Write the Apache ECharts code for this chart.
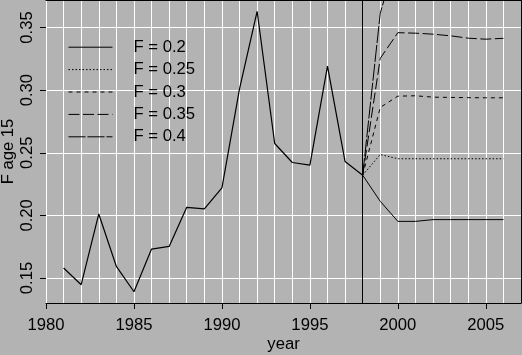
<!DOCTYPE html>
<html><head><meta charset="utf-8">
<script src="https://cdn.jsdelivr.net/npm/echarts@6/dist/echarts.min.js"></script>
<style>html,body{margin:0;padding:0;background:#b3b3b3}#c{width:522px;height:355px}</style>
</head><body><div id="c"></div>
<script>
// ---- data ----
const histYears  = [1981,1982,1983,1984,1985,1986,1987,1988,1989,1990,1991,1992,1993,1994,1995,1996,1997,1998];
const histValues = [0.158,0.1446,0.2011,0.1592,0.139,0.1731,0.1752,0.2064,0.2051,0.222,0.301,0.363,0.2574,0.2422,0.2401,0.3192,0.243,0.2321];
const projYears  = [1998,1999,2000,2001,2002,2003,2004,2005,2006];
const projF020 = [0.2321,0.2112,0.1952,0.1952,0.1966,0.1966,0.1966,0.1966,0.1966];
const projF025 = [0.2321,0.2486,0.2452,0.2452,0.2452,0.2452,0.2452,0.2452,0.2452];
const projF030 = [0.2321,0.2862,0.2952,0.2955,0.2944,0.2942,0.2940,0.2939,0.2939];
const projF035 = [0.2321,0.3254,0.3459,0.3455,0.3447,0.3434,0.3415,0.3407,0.3414];
const projF040 = [0.2321,0.3614,0.4100,0.4120,0.4130,0.4130,0.4120,0.4120,0.4120];
const seriesNames = ['F = 0.2','F = 0.25','F = 0.3','F = 0.35','F = 0.4'];
const xTickValues = [1980,1985,1990,1995,2000,2005];
const yTickValues = [0.15,0.20,0.25,0.30,0.35];
const refYear = 1998;

// ---- styling ----
const FONT = 'Liberation Sans, Arial, Helvetica, sans-serif';
const FS = 16.67;
const dashes = ['solid',[1.5,2],[4,4],[11,3.5],[17,2]];
const projData = [projF020,projF025,projF030,projF035,projF040];

const series = [{
  name:'hist', type:'line', xAxisIndex:0, yAxisIndex:0,
  data: histYears.map((y,i)=>[y,histValues[i]]),
  symbol:'none', lineStyle:{color:'#000',width:1.2,type:'solid'}, itemStyle:{color:'#000'},
  silent:true,
  markLine:{silent:true, symbol:['none','none'], label:{show:false},
    lineStyle:{color:'#000',width:1,type:'solid'}, data:[{xAxis:refYear}], animation:false}
}];
projData.forEach((arr,k)=>{
  series.push({
    name:seriesNames[k], type:'line', xAxisIndex:0, yAxisIndex:0,
    data: projYears.map((y,i)=>[y,arr[i]]),
    symbol:'none', clip:true,
    lineStyle:{color:'#000',width:1,type:dashes[k]}, itemStyle:{color:'#000'}
  });
});

const chart = echarts.init(document.getElementById('c'), null, {renderer:'canvas'});
chart.setOption({
  animation:false,
  backgroundColor:'#b3b3b3',
  textStyle:{fontFamily:FONT},
  grid:{left:46, right:1, top:0, bottom:52, containLabel:false, outerBoundsMode:'none'},
  legend:{
    orient:'vertical', left:68, top:38.7, padding:0,
    itemWidth:44, itemHeight:16, itemGap:5.4, selectedMode:false,
    itemStyle:{opacity:0, borderWidth:0},
    lineStyle:{width:1},
    textStyle:{fontSize:FS, color:'#000', fontFamily:FONT, lineHeight:16, padding:[0,0,0,16]},
    data:seriesNames
  },
  xAxis:[
    {type:'value', min:1980, max:2007, position:'bottom',
     axisLine:{show:true, onZero:false, lineStyle:{color:'#000',width:1}},
     axisTick:{show:true, length:6, customValues:xTickValues, lineStyle:{color:'#000'}},
     axisLabel:{customValues:xTickValues, color:'#000', fontSize:FS, fontFamily:FONT, margin:14,
       formatter:v=>String(Math.round(v))},
     splitLine:{show:false},
     name:'year', nameLocation:'middle', nameGap:33, nameMoveOverlap:false,
     nameTextStyle:{color:'#000', fontSize:FS, fontFamily:FONT}},
    {type:'value', min:1980, max:2007, interval:1, position:'top',
     axisLine:{show:true, onZero:false, lineStyle:{color:'#000',width:1}},
     axisTick:{show:false}, axisLabel:{show:false},
     splitLine:{show:true, lineStyle:{color:'#fff',width:1}}}
  ],
  yAxis:[
    {type:'value', min:0.13, max:0.372, position:'left',
     axisLine:{show:false},
     axisTick:{show:true, length:6, customValues:yTickValues, lineStyle:{color:'#000'}},
     axisLabel:{customValues:yTickValues, rotate:90, margin:10, color:'#000', fontSize:FS, fontFamily:FONT,
       formatter:v=>Number(v).toFixed(2)},
     splitLine:{show:true, lineStyle:{color:'#fff',width:1}},
     name:'F age 15', nameLocation:'middle', nameGap:29, nameRotate:90, nameMoveOverlap:false,
     nameTextStyle:{color:'#000', fontSize:FS, fontFamily:FONT}},
    {type:'value', min:0.13, max:0.372, position:'right',
     axisLine:{show:true, onZero:false, lineStyle:{color:'#000',width:1}},
     axisTick:{show:false}, axisLabel:{show:false}, splitLine:{show:false}}
  ],
  series:series
});
</script></body></html>
